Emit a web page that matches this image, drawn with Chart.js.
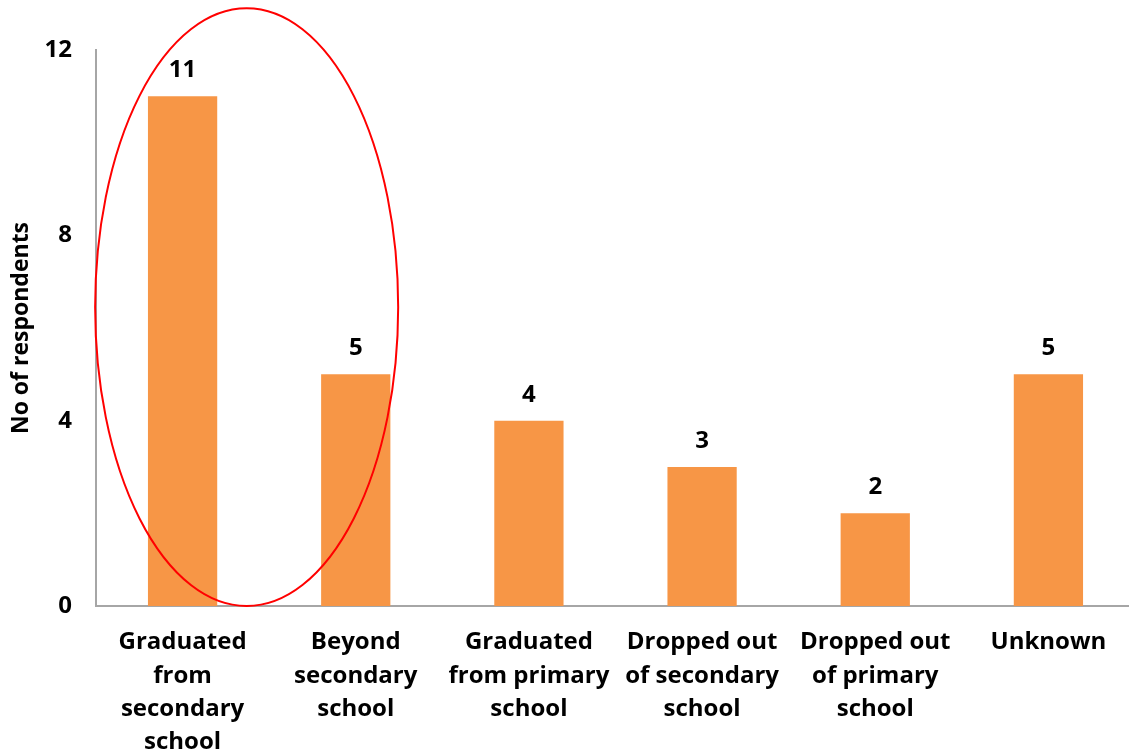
<!DOCTYPE html>
<html lang="en">
<head>
    <meta charset="UTF-8">
    <title>No of respondents by education</title>
    <script src="https://cdn.jsdelivr.net/npm/chart.js"></script>
    <style>
        html, body {
            margin: 0;
            padding: 0;
            background: #fff;
            overflow: hidden;
        }
        #chart-container {
            width: 1135px;
            height: 753px;
        }
    </style>
</head>
<body>
    <div id="chart-container">
        <canvas id="edu-chart"></canvas>
    </div>

    <script>
        const categories = [
            ['Graduated', 'from', 'secondary', 'school'],
            ['Beyond', 'secondary', 'school'],
            ['Graduated', 'from primary', 'school'],
            ['Dropped out', 'of secondary', 'school'],
            ['Dropped out', 'of primary', 'school'],
            ['Unknown']
        ];
        const respondents = [11, 5, 4, 3, 2, 5];
        const yTicks = [0, 4, 8, 12];

        const fontFamily = "'Open Sans', 'DejaVu Sans', sans-serif";

        // value labels drawn above each bar
        const barLabels = {
            id: 'barLabels',
            afterDatasetsDraw(chart) {
                const ctx = chart.ctx;
                const meta = chart.getDatasetMeta(0);
                ctx.save();
                ctx.fillStyle = '#000';
                ctx.font = 'bold 24px ' + fontFamily;
                ctx.textAlign = 'center';
                ctx.textBaseline = 'alphabetic';
                meta.data.forEach((bar, i) => {
                    ctx.fillText(respondents[i], bar.x, bar.y - 19);
                });
                ctx.restore();
            }
        };

        // red ellipse around the first two categories
        const circled = { cx: 0.37, rx: 0.875, top: 12.9, bottom: 0 };
        const ellipse = {
            id: 'ellipse',
            afterDraw(chart) {
                const x = chart.scales.x, y = chart.scales.y;
                const cx = x.getPixelForValue(circled.cx);
                const rx = Math.abs(x.getPixelForValue(circled.cx + circled.rx) - cx);
                const yTop = y.getPixelForValue(circled.top);
                const yBot = y.getPixelForValue(circled.bottom);
                const ctx = chart.ctx;
                ctx.save();
                ctx.strokeStyle = '#FF0000';
                ctx.lineWidth = 2;
                ctx.beginPath();
                ctx.ellipse(cx, (yTop + yBot) / 2, rx, (yBot - yTop) / 2, 0, 0, Math.PI * 2);
                ctx.stroke();
                ctx.restore();
            }
        };

        const ctx = document.getElementById('edu-chart').getContext('2d');
        new Chart(ctx, {
            type: 'bar',
            data: {
                labels: categories,
                datasets: [{
                    data: respondents,
                    backgroundColor: '#F79646',
                    barPercentage: 0.4,
                    categoryPercentage: 1
                }]
            },
            options: {
                responsive: true,
                maintainAspectRatio: false,
                animation: false,
                layout: { padding: { top: 50, left: 0, right: 0, bottom: 0 } },
                plugins: {
                    legend: { display: false },
                    tooltip: { enabled: false }
                },
                scales: {
                    x: {
                        afterFit(axis) { axis.height = 147; },
                        grid: { display: false, drawTicks: false },
                        border: { color: '#A6A6A6', width: 2 },
                        ticks: {
                            color: '#000',
                            padding: 20,
                            maxRotation: 0,
                            autoSkip: false,
                            font: { family: fontFamily, size: 24, weight: 'bold', lineHeight: 1.38 }
                        }
                    },
                    y: {
                        min: 0,
                        max: 12,
                        afterFit(axis) { axis.width = 96; },
                        afterBuildTicks(axis) {
                            axis.ticks = yTicks.map(v => ({ value: v }));
                        },
                        grid: { display: false, drawTicks: false },
                        border: { color: '#A6A6A6', width: 2 },
                        ticks: {
                            color: '#000',
                            padding: 24,
                            font: { family: fontFamily, size: 24, weight: 'bold' }
                        },
                        title: {
                            display: true,
                            text: 'No of respondents',
                            color: '#000',
                            padding: { top: 8, bottom: 0 },
                            font: { family: fontFamily, size: 23, weight: 'bold' }
                        }
                    }
                }
            },
            plugins: [barLabels, ellipse]
        });
    </script>
</body>
</html>
